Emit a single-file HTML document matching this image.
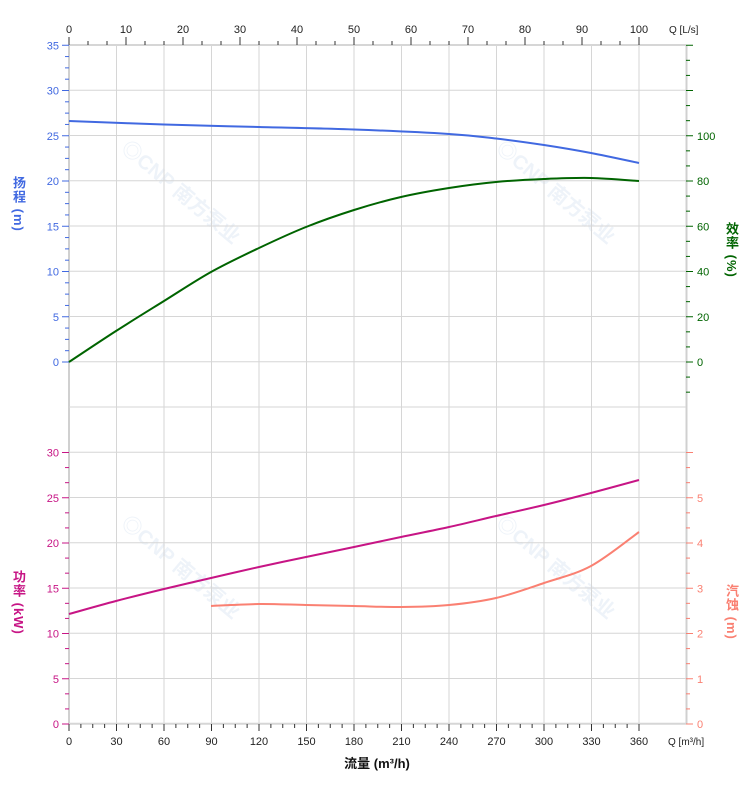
<!DOCTYPE html>
<html><head><meta charset="utf-8"><style>
body{margin:0;background:#fff}
svg{display:block;font-family:"Liberation Sans","Noto Sans CJK SC",sans-serif}
.v{writing-mode:vertical-rl;font-family:"Liberation Sans","Noto Sans CJK SC",sans-serif;font-size:13px;font-weight:bold;position:absolute;letter-spacing:1px}
</style></head><body>
<div style="position:relative;width:752px;height:797px">
<svg id="s" width="752" height="797" viewBox="0 0 752 797"></svg>
<div class="v" style="left:9px;top:176px;color:#4169E1">扬程 (m)</div>
<div class="v" style="left:722px;top:222px;color:#006400">效率 (%)</div>
<div class="v" style="left:9px;top:570px;color:#C71585">功率 (kW)</div>
<div class="v" style="left:722px;top:584px;color:#FA8072">汽蚀 (m)</div>
</div>
<script>
const s=document.getElementById('s');let h='';
const X0=69,X1=686.5,dx=47.5,Y0=45,dy=45.25;
function L(x1,y1,x2,y2,c,w){h+=`<line x1="${x1}" y1="${y1}" x2="${x2}" y2="${y2}" stroke="${c}" stroke-width="${w||1}"/>`}
function T(x,y,t,c,a,fs){h+=`<text x="${x}" y="${y}" fill="${c}" font-size="${fs||11}" text-anchor="${a||'middle'}">${t}</text>`}
[[120,150],[495,150],[120,525],[495,525]].forEach(p=>{h+=`<text x="${p[0]}" y="${p[1]}" transform="rotate(40 ${p[0]} ${p[1]})" fill="#eef3f9" font-size="20" font-weight="bold">◎CNP 南方泵业</text>`});
for(let i=0;i<=13;i++){let x=X0+i*dx;L(x,45,x,724,i==0||i==13?'#d0d0d0':'#d6d6d6',i==0||i==13?2:1)}
for(let j=0;j<=15;j++){let y=Y0+j*dy;L(69,y,686,y,'#d6d6d6',j==0||j==15?2:1)}
for(let q=0;q<=360;q+=7.5){let x=X0+q/30*dx;L(x,724,x,q%30==0?731:728,'#333')}
for(let q=0;q<=360;q+=30){T(X0+q/30*dx,745,q,'#222')}
T(668,745,'Q [m³/h]','#222','start',10);
for(let i=0;i<=30;i++){let x=X0+i*19;L(x,45,x,i%3==0?37:41,'#333')}
for(let q=0;q<=100;q+=10){T(X0+q*5.7,33,q,'#222')}
T(669,33,'Q [L/s]','#222','start',10);
for(let k=0;k<=28;k++){let y=362-k*dy/4;L(k%4==0?62:65,y,69,y,'#4169E1')}
for(let v=0;v<=35;v+=5)T(59,362-v*dy/5+4,v,'#4169E1','end');
for(let k=0;k<=18;k++){let y=724-k*dy/3;L(k%3==0?62:65,y,69,y,'#C71585')}
for(let v=0;v<=30;v+=5)T(59,724-v*dy/5+4,v,'#C71585','end');
for(let k=-3;k<=21;k++){let y=362-k*dy/3;if(y<=407&&y>=45)L(686,y,k%3==0?693:690,y,'#006400')}
for(let v=0;v<=100;v+=20)T(697,362-v*dy/20+4,v,'#006400','start');
for(let k=0;k<=18;k++){let y=724-k*dy/3;if(y>=407)L(686,y,k%3==0?693:690,y,'#FA8072')}
for(let v=0;v<=5;v++)T(697,724-v*dy+4,v,'#FA8072','start');
function P(pts,c){let d='M'+pts[0].join(',');for(let i=1;i<pts.length;i++){let p0=pts[i-2]||pts[i-1],p1=pts[i-1],p2=pts[i],p3=pts[i+1]||p2;d+=` C${p1[0]+(p2[0]-p0[0])/6},${p1[1]+(p2[1]-p0[1])/6} ${p2[0]-(p3[0]-p1[0])/6},${p2[1]-(p3[1]-p1[1])/6} ${p2[0]},${p2[1]}`}h+=`<path d="${d}" fill="none" stroke="${c}" stroke-width="2"/>`}
P([[69,121],[164,124.5],[259,127],[354,129.5],[449,134],[496,138.5],[544,145],[591,153],[639,163]],'#4169E1');
P([[69,362],[116,331],[164,301],[211,272],[259,248],[306,227],[354,210],[401,197],[449,188],[496,182],[544,179],[591,178],[639,181]],'#006400');
P([[69,614],[116,601],[164,589],[211,578],[259,567],[306,557],[354,547],[401,537],[449,527],[496,516],[544,505],[591,493],[639,480]],'#C71585');
P([[211,606],[259,604],[306,605],[354,606],[401,607],[449,605],[496,598],[544,583],[591,566],[639,532]],'#FA8072');
h+=`<text x="377" y="768" fill="#111" font-size="13" font-weight="bold" text-anchor="middle">流量 (m³/h)</text>`;
s.innerHTML=h;
</script>
</body></html>
